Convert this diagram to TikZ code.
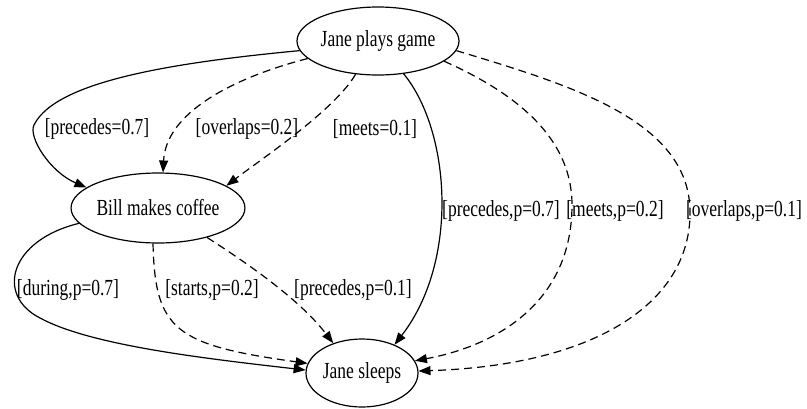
\documentclass[tikz,border=0pt]{standalone}
\usepackage{fontspec}
\setmainfont[FakeStretch=0.76]{Liberation Serif}
\usetikzlibrary{arrows.meta,shapes.geometric}
\begin{document}
\begin{tikzpicture}[x=1pt,y=-1pt,
  event/.style={draw,ellipse,line width=1.2pt,inner sep=0pt,
    font=\fontsize{23}{27}\selectfont},
  lbl/.style={inner sep=0pt,font=\fontsize{23}{27}\selectfont},
  rel/.style={line width=1.2pt,-{Triangle[length=12pt,width=9pt]}},
  weak/.style={rel,dash pattern=on 8pt off 5pt}]
\useasboundingbox (0,0) rectangle (807,408);

% events
\node[event,minimum width=146pt,minimum height=68pt] (jpg) at (378,41) {Jane plays game};
\node[event,minimum width=156pt,minimum height=70pt] (bmc) at (158,208) {Bill makes coffee};
\node[event,minimum width=112pt,minimum height=68pt] (js)  at (362,373) {Jane sleeps};

% Jane plays game -> Bill makes coffee
\draw[rel]  (jpg.187) .. controls (180,62) and (56,80) .. (34,125)
                      .. controls (28,137) and (50,172) .. (bmc.164);
\draw[weak] (jpg.194) .. controls (232,78) and (166,113) .. (bmc.82);
\draw[weak] (jpg.236) .. controls (335,110) and (260,160) .. (bmc.18);

% Jane plays game -> Jane sleeps
\draw[rel]  (jpg.308) .. controls (450,130) and (460,260) .. (js.41);
\draw[weak] (jpg.343) .. controls (520,95) and (572,140) .. (572,205)
                      .. controls (572,300) and (500,345) .. (js.13);
\draw[weak] (jpg.353) .. controls (570,85) and (688,120) .. (690,210)
                      .. controls (692,300) and (600,365) .. (js.2);

% Bill makes coffee -> Jane sleeps
\draw[rel]  (bmc.191) .. controls (10,240) and (-5,295) .. (40,318)
                      .. controls (90,345) and (200,358) .. (js.177);
\draw[weak] (bmc.262) .. controls (155,330) and (175,345) .. (js.170);
\draw[weak] (bmc.329) .. controls (250,265) and (300,300) .. (js.134);

% relation labels
\node[lbl] (l1) at (97,129)  {[precedes=0.7]};
\node[lbl] (l2) at (247,129) {[overlaps=0.2]};
\node[lbl] (l3) at (375,129) {[meets=0.1]};
\node[lbl] (l4) at (501,211) {[precedes,p=0.7]};
\node[lbl] (l5) at (615,211) {[meets,p=0.2]};
\node[lbl] (l6) at (744,211) {[overlaps,p=0.1]};
\node[lbl] (l7) at (68,290)  {[during,p=0.7]};
\node[lbl] (l8) at (212,290) {[starts,p=0.2]};
\node[lbl] (l9) at (353,290) {[precedes,p=0.1]};
\end{tikzpicture}
\end{document}
